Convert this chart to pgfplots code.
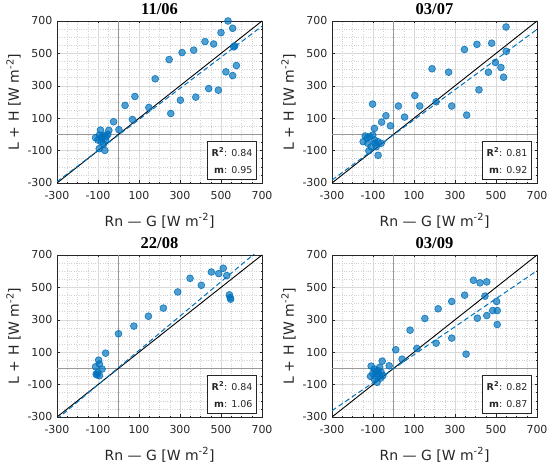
\documentclass[border=0pt]{standalone}
\usepackage{pgfplots}
\pgfplotsset{compat=1.18}
\usepackage{pgfplotstable}
\usepackage{fontspec}
\setmainfont{DejaVu Sans}
\newfontfamily\titlefont{Liberation Serif}
\definecolor{mblue}{RGB}{0,114,189}
\definecolor{axgray}{RGB}{38,38,38}

\pgfplotstableread{
x y
534 700
557 655
500 628
422 573
464 558
567 546
562 540
367 520
310 505
247 462
575 425
524 386
557 363
179 343
440 283
487 273
377 230
80 234
302 211
32 179
148 166
255 129
68 92
-24 78
2 29
-47 25
-88 27
-112 -21
-93 -4
-76 -14
-60 -14
-84 -45
-63 -35
-94 -88
-67 -99
-100 -35
-73 -60
-52 0
-82 -20
-70 -5
}\dataA

\pgfplotstableread{
x y
549 663
479 563
407 556
346 524
550 513
497 444
524 413
463 384
269 384
188 405
537 353
417 275
104 240
208 201
24 175
128 175
284 175
-102 187
-37 115
54 107
357 119
-58 76
-15 53
-93 37
-138 -10
-148 -45
-117 -14
-93 -35
-76 -45
-109 -76
-120 -101
-75 -129
-101 -4
-60 -55
-84 -76
-125 -55
-130 -25
-90 -55
}\dataB

\pgfplotstableread{
x y
453 595
511 618
489 585
528 573
349 556
404 513
289 472
541 454
545 437
547 427
219 372
146 322
75 261
0 214
-63 94
-97 51
-112 10
-93 27
-80 -4
-109 -35
-93 -45
-101 -25
-105 -40
}\dataC

\pgfplotstableread{
x y
390 544
422 528
455 534
347 452
446 446
284 413
503 413
218 368
484 357
506 357
455 326
153 308
409 310
506 271
81 236
208 156
284 187
354 88
11 115
114 123
42 57
-55 45
-21 16
-109 14
-112 -49
-93 -4
-76 -14
-60 -25
-84 -45
-63 -60
-80 -86
-101 -31
-52 -45
-93 -66
-68 6
-72 -35
-88 -20
}\dataD

\pgfplotsset{
  panel/.style={
    width=205pt,height=162pt,scale only axis,
    xmin=-300,xmax=700,ymin=-300,ymax=700,
    xtick={-300,-100,100,300,500,700},
    ytick={-300,-100,100,300,500,700},
    xticklabels={-300,-100,100,300,500,700},
    yticklabels={-300,-100,100,300,500,700},
    minor tick num=3,
    grid=both,
    major grid style={black!15, line width=0.4pt},
    minor grid style={black!18, dotted, line width=0.4pt},
    tick align=inside,
    major tick length=2.5pt,
    minor tick length=1.2pt,
    axis line style={axgray, line width=0.6pt},
    tick style={axgray, line width=0.4pt},
    ticklabel style={font=\fontsize{11}{13}\selectfont, text=axgray},
    xticklabel style={yshift=-5pt},
    yticklabel style={xshift=-1pt},
    xlabel={Rn — G [W m\textsuperscript{-2}]},
    ylabel={L + H [W m\textsuperscript{-2}]},
    label style={font=\fontsize{14}{16}\selectfont, text=axgray},
    title style={font=\titlefont\bfseries\fontsize{16.5}{18}\selectfont, yshift=-3pt},
    xlabel style={yshift=-7pt},
  },
  pts/.style={only marks, mark=*, mark size=3.4pt,
    mark options={fill=mblue, fill opacity=0.68, draw=mblue, draw opacity=0.85, line width=0.7pt}},
  oneone/.style={black, line width=0.9pt},
  fit/.style={mblue, line width=1pt, dash pattern=on 5pt off 3pt},
  zeroln/.style={black!40, line width=0.6pt},
}

\newcommand{\statbox}[2]{%
  \node[draw=axgray, line width=0.8pt, fill=white, anchor=south east,
        minimum width=49pt, minimum height=38pt, align=right, inner sep=3pt,
        font=\fontsize{9.5}{16.5}\selectfont, text=axgray]
    at (rel axis cs:0.9756,0.0185) {\textbf{R\textsuperscript{2}}: #1\\\textbf{m}: #2};}

\begin{document}
\begin{tikzpicture}
\useasboundingbox (0,0) rectangle (550pt,468pt);

% Panel 1
\begin{axis}[panel, at={(57pt,285pt)}, anchor=south west, title={11/06}]
  \addplot[zeroln] coordinates {(0,-300) (0,700)};
  \addplot[zeroln] coordinates {(-300,0) (700,0)};
  \addplot[pts] table[x=x,y=y] {\dataA};
  \addplot[oneone] coordinates {(-300,-300) (700,700)};
  \addplot[fit] coordinates {(-300,-292) (700,668)};
  \statbox{0.84}{0.95}
\end{axis}

% Panel 2
\begin{axis}[panel, at={(332pt,285pt)}, anchor=south west, title={03/07}]
  \addplot[zeroln] coordinates {(0,-300) (0,700)};
  \addplot[zeroln] coordinates {(-300,0) (700,0)};
  \addplot[pts] table[x=x,y=y] {\dataB};
  \addplot[oneone] coordinates {(-300,-300) (700,700)};
  \addplot[fit] coordinates {(-300,-282) (700,648)};
  \statbox{0.81}{0.92}
\end{axis}

% Panel 3
\begin{axis}[panel, at={(57pt,51pt)}, anchor=south west, title={22/08}]
  \addplot[zeroln] coordinates {(0,-300) (0,700)};
  \addplot[zeroln] coordinates {(-300,0) (700,0)};
  \addplot[pts] table[x=x,y=y] {\dataC};
  \addplot[oneone] coordinates {(-300,-300) (700,700)};
  \addplot[fit] coordinates {(-300,-313) (700,747)};
  \statbox{0.84}{1.06}
\end{axis}

% Panel 4
\begin{axis}[panel, at={(332pt,51pt)}, anchor=south west, title={03/09}]
  \addplot[zeroln] coordinates {(0,-300) (0,700)};
  \addplot[zeroln] coordinates {(-300,0) (700,0)};
  \addplot[pts] table[x=x,y=y] {\dataD};
  \addplot[oneone] coordinates {(-300,-300) (700,700)};
  \addplot[fit] coordinates {(-300,-261) (700,603)};
  \statbox{0.82}{0.87}
\end{axis}
\end{tikzpicture}
\end{document}
